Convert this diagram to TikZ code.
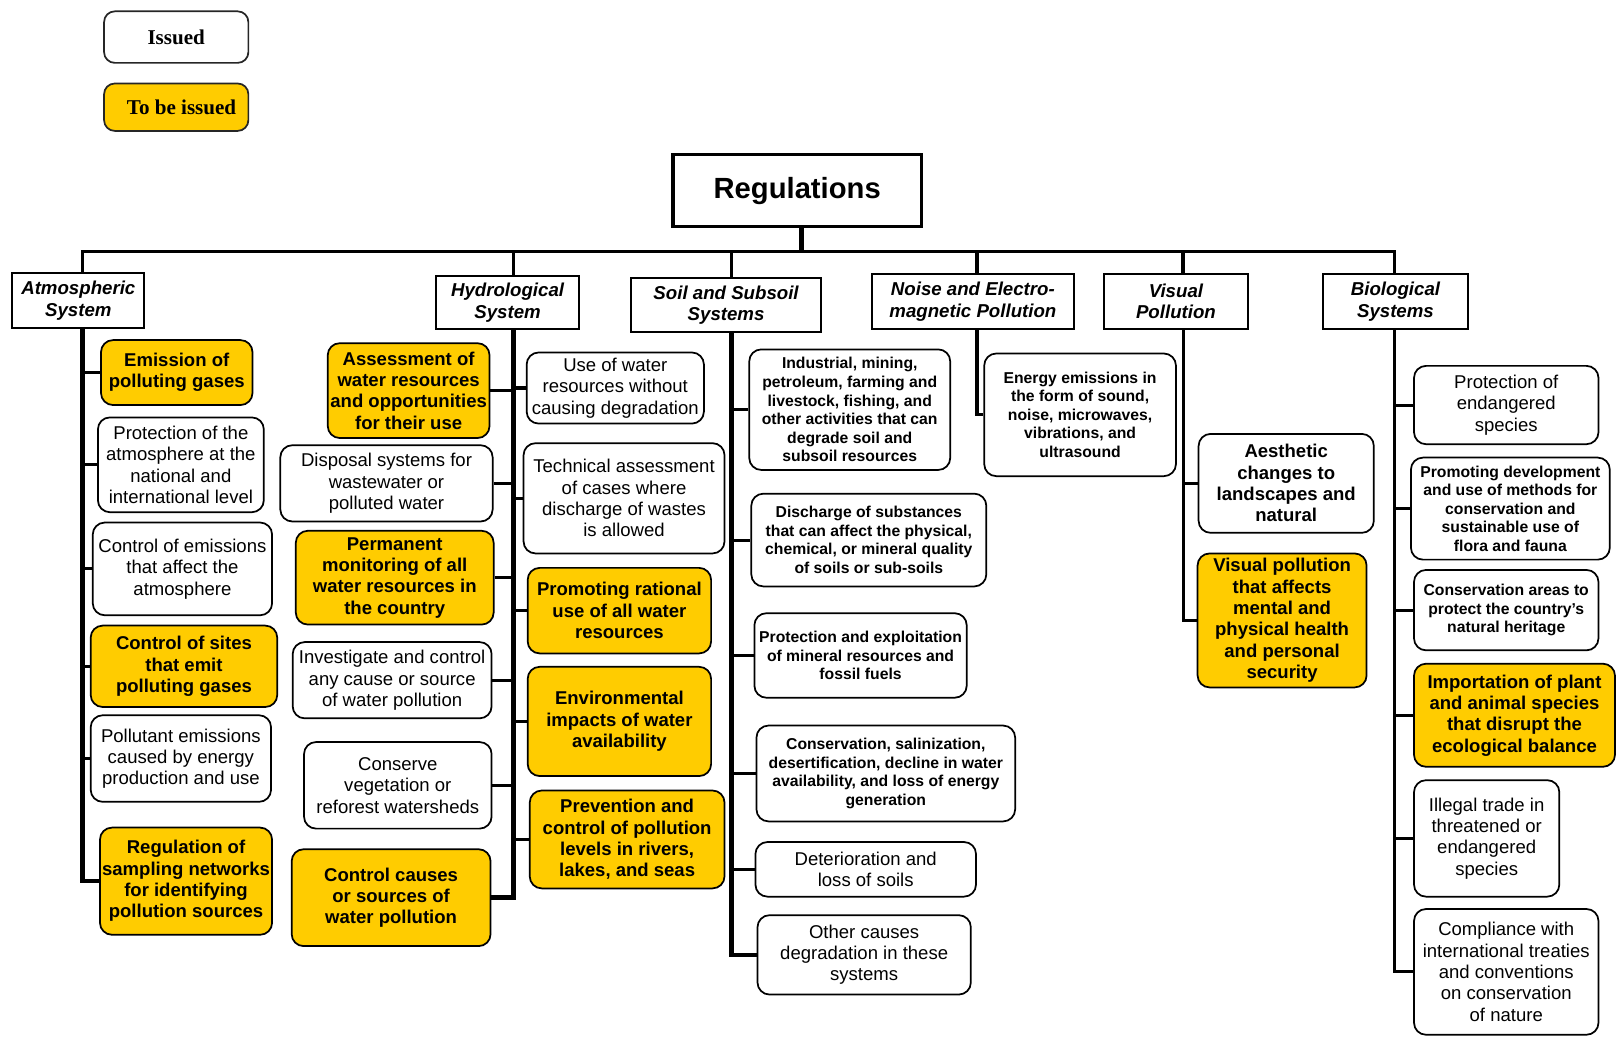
\documentclass[tikz,border=0pt]{standalone}
\usepackage{fontspec}
\setmainfont{Liberation Sans}
\newfontfamily\legendfont{Liberation Serif}
\definecolor{gold}{RGB}{255,204,0}

% box from corner (x1,y1) to corner (x2,y2): style, name, x1, y1, x2, y2, text
\newcommand\bx[7]{%
  \pgfmathsetmacro\bxw{(#5-#3)*0.773}%
  \pgfmathsetmacro\bxh{(#6-#4)*0.773}%
  \node[#1, minimum width=\bxw pt, minimum height=\bxh pt] (#2)
    at ({(#3+#5)/2},{(#4+#6)/2}) {#7};}

\tikzset{
  every node/.style={align=center, inner sep=0pt, text=black},
  item/.style={draw=black, line width=1.3pt, rounded corners=9pt, fill=white,
    font=\fontsize{13.9pt}{16pt}\selectfont},
  itembold/.style={item, font=\fontsize{13.9pt}{16pt}\selectfont\bfseries},
  itemsmall/.style={item, font=\fontsize{11.8pt}{13.9pt}\selectfont\bfseries},
  todo/.style={itembold, fill=gold},
  legendbox/.style={draw=black!85, line width=1.3pt, rounded corners=8pt,
    font=\legendfont\bfseries\fontsize{15.8pt}{18pt}\selectfont},
  catbox/.style={draw=black, line width=1.6pt, fill=white,
    font=\fontsize{14pt}{16.2pt}\selectfont\bfseries\itshape},
  topbox/.style={draw=black, line width=2.3pt, fill=white,
    font=\fontsize{21.9pt}{26pt}\selectfont\bfseries},
  bus/.style={line width=2.5pt, line join=miter},
  spine/.style={line width=3.4pt, line join=miter},
  thinspine/.style={line width=2.4pt, line join=miter},
  conn/.style={line width=2.3pt},
}

\begin{document}
\begin{tikzpicture}[x=0.773pt, y=-0.773pt]
\useasboundingbox (0,0) rectangle (1568,1007);

% legend
\bx{legendbox}{legIssued}{101}{11}{241}{61}{Issued}
\bx{legendbox, fill=gold}{legToBe}{101}{81}{241}{127}{\hspace*{8pt}To be issued}

% root
\bx{topbox}{reg}{653}{150}{894}{220}{Regulations}

% branch points on the main bus
\coordinate (A) at (80,244);
\coordinate (H) at (498,244);
\coordinate (S) at (710,244);
\coordinate (N) at (948,244);
\coordinate (V) at (1148,244);
\coordinate (B) at (1353,244);
\coordinate (R) at (778,244);

% categories
\bx{catbox}{atm}{12}{265}{140}{318}{Atmospheric\\System}
\bx{catbox}{hyd}{423}{268}{562}{319}{Hydrological\\System}
\bx{catbox}{soil}{612}{270}{797}{322}{Soil and Subsoil\\Systems}
\bx{catbox}{noise}{846}{266}{1042}{319}{Noise and Electro-\\magnetic Pollution}
\bx{catbox}{vis}{1071}{266}{1211}{319}{Visual\\Pollution}
\bx{catbox}{bio}{1284}{266}{1424}{319}{Biological\\Systems}

% atmospheric system
\bx{todo}{a1}{98}{330}{245}{393}{Emission of\\polluting gases}
\bx{item}{a2}{95}{405}{256}{497}{Protection of the\\atmosphere at the\\national and\\international level}
\bx{item}{a3}{90}{507}{264}{597}{Control of emissions\\that affect the\\atmosphere}
\bx{todo}{a4}{88}{607}{269}{686}{Control of sites\\that emit\\polluting gases}
\bx{item}{a5}{88}{694}{263}{778}{Pollutant emissions\\caused by energy\\production and use}
\bx{todo}{a6}{97}{803}{264}{907}{Regulation of\\sampling networks\\for identifying\\pollution sources}

% hydrological system, left column
\bx{todo}{h1}{318}{333}{475}{425}{Assessment of\\water resources\\and opportunities\\for their use}
\bx{item}{h2}{272}{432}{478}{506}{Disposal systems for\\wastewater or\\polluted water}
\bx{todo}{h3}{287}{515}{479}{606}{Permanent\\monitoring of all\\water resources in\\the country}
\bx{item}{h4}{284}{623}{477}{697}{Investigate and control\\any cause or source\\of water pollution}
\bx{item}{h5}{295}{720}{477}{804}{Conserve\\vegetation or\\reforest watersheds}
\bx{todo}{h6}{283}{824}{476}{918}{Control causes\\or sources of\\water pollution}
% hydrological system, right column
\bx{item}{h7}{511}{342}{683}{411}{Use of water\\resources without\\causing degradation}
\bx{item}{h8}{508}{430}{703}{537}{Technical assessment\\of cases where\\discharge of wastes\\is allowed}
\bx{todo}{h9}{512}{551}{690}{634}{Promoting rational\\use of all water\\resources}
\bx{todo}{h10}{512}{647}{690}{753}{Environmental\\impacts of water\\availability}
\bx{todo}{h11}{514}{767}{703}{862}{Prevention and\\control of pollution\\levels in rivers,\\lakes, and seas}

% soil and subsoil systems
\bx{itemsmall}{s1}{727}{339}{922}{456}{Industrial, mining,\\petroleum, farming and\\livestock, fishing, and\\other activities that can\\degrade soil and\\subsoil resources}
\bx{itemsmall}{s2}{729}{479}{957}{569}{Discharge of substances\\that can affect the physical,\\chemical, or mineral quality\\of soils or sub-soils}
\bx{itemsmall}{s3}{732}{595}{938}{677}{Protection and exploitation\\of mineral resources and\\fossil fuels}
\bx{itemsmall}{s4}{734}{704}{985}{797}{Conservation, salinization,\\desertification, decline in water\\availability, and loss of energy\\generation}
\bx{item}{s5}{733}{817}{947}{870}{Deterioration and\\loss of soils}
\bx{item}{s6}{735}{888}{942}{965}{Other causes\\degradation in these\\systems}

% noise and electromagnetic pollution
\bx{itemsmall}{n1}{955}{343}{1141}{462}{Energy emissions in\\the form of sound,\\noise, microwaves,\\vibrations, and\\ultrasound}

% visual pollution
\bx{itembold}{v1}{1163}{421}{1333}{517}{Aesthetic\\changes to\\landscapes and\\natural}
\bx{todo}{v2}{1162}{537}{1326}{667}{Visual pollution\\that affects\\mental and\\physical health\\and personal\\security}

% biological systems
\bx{item}{b1}{1372}{355}{1551}{431}{Protection of\\endangered\\species}
\bx{itemsmall}{b2}{1369}{444}{1562}{543}{Promoting development\\and use of methods for\\conservation and\\sustainable use of\\flora and fauna}
\bx{itemsmall}{b3}{1372}{553}{1551}{631}{Conservation areas to\\protect the country’s\\natural heritage}
\bx{todo}{b4}{1372}{644}{1567}{744}{Importation of plant\\and animal species\\that disrupt the\\ecological balance}
\bx{item}{b5}{1372}{757}{1513}{870}{Illegal trade in\\threatened or\\endangered\\species}
\bx{item}{b6}{1372}{882}{1551}{1004}{Compliance with\\international treaties\\and conventions\\on conservation\\of nature}

% main bus and drops to the categories
\draw[line width=4pt] (reg.south -| R) -- (R);
\draw[bus] (A |- atm.north) -- (A) -- (B) -- (B |- bio.north);
\draw[bus] (H) -- (H |- hyd.north);
\draw[bus] (S) -- (S |- soil.north);
\draw[bus] (N) -- (N |- noise.north);
\draw[bus] (V) -- (V |- vis.north);

% atmospheric spine
\draw[spine] (atm.south -| A) -- (A |- a6.west) -- (a6.west);
\foreach \n in {a1,a2,a3,a4,a5} \draw[conn] (\n.west -| A) -- (\n.west);

% hydrological spine
\draw[spine] (hyd.south -| H) -- (H |- h6.east) -- (h6.east);
\foreach \n in {h1,h2,h3,h4,h5} \draw[conn] (\n.east -| H) -- (\n.east);
\foreach \n in {h7,h8,h9,h10,h11} \draw[conn] (\n.west -| H) -- (\n.west);

% soil spine
\draw[spine] (soil.south -| S) -- (S |- s6.west) -- (s6.west);
\foreach \n in {s1,s2,s3,s4,s5} \draw[conn] (\n.west -| S) -- (\n.west);

% noise spine
\draw[thinspine] (noise.south -| N) -- (N |- n1.west) -- (n1.west);

% visual spine
\draw[thinspine] (vis.south -| V) -- (V |- v2.west) -- (v2.west);
\draw[conn] (v1.west -| V) -- (v1.west);

% biological spine
\draw[thinspine] (bio.south -| B) -- (B |- b6.west) -- (b6.west);
\foreach \n in {b1,b2,b3,b4,b5} \draw[conn] (\n.west -| B) -- (\n.west);
\end{tikzpicture}
\end{document}
